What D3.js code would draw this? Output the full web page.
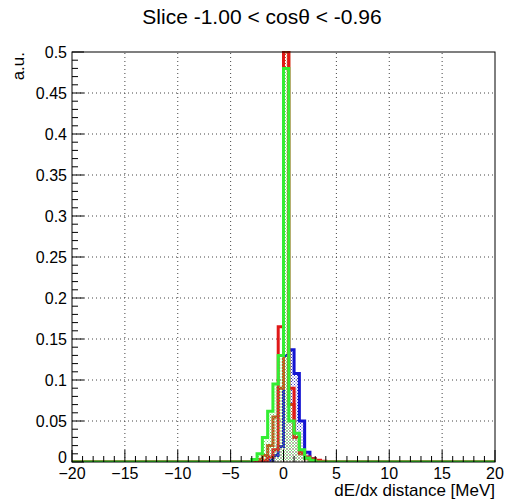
<!DOCTYPE html>
<html><head><meta charset="utf-8">
<script src="https://cdn.jsdelivr.net/npm/d3@7"></script>
<style>body{margin:0;background:#fff}svg{display:block}text{font-family:"Liberation Sans",Arial,sans-serif}</style>
</head><body>
<script>
// ---- data ----
const title = "Slice -1.00 < cos\u03b8 < -0.96";
const xLabel = "dE/dx distance [MeV]";
const yLabel = "a.u.";
const xTicks = [-20,-15,-10,-5,0,5,10,15,20];
const xTickLabels = ["\u221220","\u221215","\u221210","\u22125","0","5","10","15","20"];
const yTicks = [0,0.05,0.1,0.15,0.2,0.25,0.3,0.35,0.4,0.45,0.5];
const yTickLabels = ["0","0.05","0.1","0.15","0.2","0.25","0.3","0.35","0.4","0.45","0.5"];
const binWidth = 0.5;
const binStarts  = [-3.5,-3,-2.5,-2,-1.5,-1,-0.5,0,0.5,1,1.5,2,2.5,3,3.5];
const blueVals   = [0,0,0,0.001,0.002,0.008,0.019,0.13,0.137,0.108,0.05,0.012,0.004,0.001,0];
const orangeVals = [0,0,0.003,0.008,0.02,0.055,0.09,0.5,0.07,0.03,0.01,0.004,0.001,0,0];
const redVals    = [0,0,0,0.002,0.006,0.015,0.165,0.56,0.09,0.03,0.012,0.006,0.004,0.002,0.001];
const greenVals  = [0,0.003,0.01,0.03,0.062,0.095,0.13,0.48,0.05,0.035,0.015,0.005,0.002,0,0];

// ---- layout ----
const W=506,H=501;
const m={l:72,r:11,t:52,b:39};
const svg=d3.select("body").append("svg").attr("width",W).attr("height",H);
const x=d3.scaleLinear().domain([-20,20]).range([m.l,W-m.r]);
const y=d3.scaleLinear().domain([0,0.5]).range([H-m.b,m.t]);
const defs=svg.append("defs");
defs.append("clipPath").attr("id","clip").append("rect")
  .attr("x",m.l).attr("y",m.t-1).attr("width",W-m.r-m.l).attr("height",H-m.b-m.t+1);
function pat(id,col){
  const p=defs.append("pattern").attr("id",id).attr("patternUnits","userSpaceOnUse").attr("width",3).attr("height",3);
  p.append("rect").attr("x",0).attr("y",0).attr("width",1).attr("height",1).attr("fill",col);
  p.append("rect").attr("x",1.5).attr("y",1.5).attr("width",1).attr("height",1).attr("fill",col);
}
pat("pBlue","#3a3acc");pat("pGreen","#66dd66");pat("pOrange","#cc5522");

// grid
const g=svg.append("g");
g.selectAll(".gx").data(xTicks.slice(1,-1)).enter().append("line")
  .attr("x1",d=>x(d)).attr("x2",d=>x(d)).attr("y1",y(0)).attr("y2",y(0.5))
  .attr("stroke","#444").attr("stroke-width",1).attr("stroke-dasharray","1,3");
g.selectAll(".gy").data(yTicks.slice(1,-1)).enter().append("line")
  .attr("x1",x(-20)).attr("x2",x(20)).attr("y1",d=>y(d)).attr("y2",d=>y(d))
  .attr("stroke","#444").attr("stroke-width",1).attr("stroke-dasharray","1,3");

// histograms
function stepPath(vals){
  let p="M"+x(-20)+","+y(0);
  binStarts.forEach((s,i)=>{p+="L"+x(s)+","+y(i>0?vals[i-1]:0)+"L"+x(s)+","+y(vals[i])+"L"+x(s+binWidth)+","+y(vals[i]);});
  const e=binStarts[binStarts.length-1]+binWidth;
  p+="L"+x(e)+","+y(0)+"L"+x(20)+","+y(0);
  return p;
}
const hg=svg.append("g").attr("clip-path","url(#clip)");
const series=[
  {v:blueVals,c:"#1414d2",f:"url(#pBlue)"},
  {v:orangeVals,c:"#c84a14",f:"url(#pOrange)"},
  {v:redVals,c:"#e01818",f:"none"},
  {v:greenVals,c:"#33ee33",f:"url(#pGreen)"}
];
series.forEach(s=>{
  hg.append("path").attr("d",stepPath(s.v)+"Z").attr("fill",s.f).attr("stroke","none");
  hg.append("path").attr("d",stepPath(s.v)).attr("fill","none").attr("stroke",s.c).attr("stroke-width",3).attr("stroke-linejoin","miter");
});

// frame
svg.append("rect").attr("x",m.l).attr("y",m.t).attr("width",W-m.r-m.l).attr("height",H-m.b-m.t)
  .attr("fill","none").attr("stroke","#000").attr("stroke-width",1);

// ticks
const tk=svg.append("g").attr("stroke","#000").attr("stroke-width",1);
d3.range(-20,21,1).forEach(v=>{
  const major=v%5===0;
  tk.append("line").attr("x1",x(v)).attr("x2",x(v)).attr("y1",y(0)).attr("y2",y(0)-(major?12:6));
});
d3.range(0,51,1).forEach(k=>{
  const v=k/100,major=k%5===0;
  tk.append("line").attr("x1",x(-20)).attr("x2",x(-20)+(major?12:6)).attr("y1",y(v)).attr("y2",y(v));
});

// labels
svg.selectAll(".xl").data(xTicks).enter().append("text")
  .attr("x",d=>x(d)).attr("y",y(0)+17).attr("text-anchor","middle").attr("font-size",16)
  .text((d,i)=>xTickLabels[i]);
svg.selectAll(".yl").data(yTicks).enter().append("text")
  .attr("x",x(-20)-5).attr("y",d=>y(d)+(d===0?1:6)).attr("text-anchor","end").attr("font-size",16)
  .text((d,i)=>yTickLabels[i]);
svg.append("text").attr("x",x(20)).attr("y",H-5).attr("text-anchor","end").attr("font-size",17).text(xLabel);
svg.append("text").attr("transform",`translate(24,${m.t}) rotate(-90)`).attr("text-anchor","end").attr("font-size",17).text(yLabel);
svg.append("text").attr("x",262).attr("y",24).attr("text-anchor","middle").attr("font-size",21).text(title);
</script>
</body></html>
